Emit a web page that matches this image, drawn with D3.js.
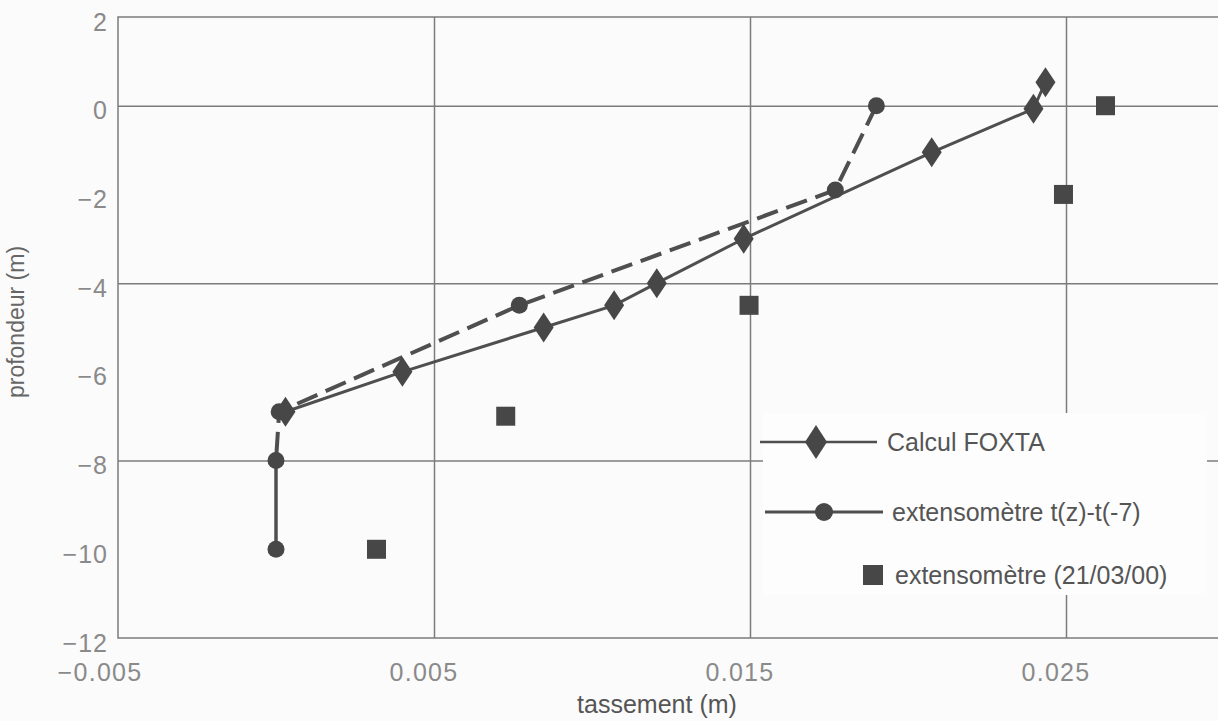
<!DOCTYPE html>
<html>
<head>
<meta charset="utf-8">
<script src="https://cdn.jsdelivr.net/npm/d3@7"></script>
<style>
  html, body { margin: 0; padding: 0; background: #fbfbfb; }
  svg { display: block; font-family: "Liberation Sans", Arial, sans-serif; }
</style>
</head>
<body>
<div id="chart"></div>
<script>
// données

// Calcul FOXTA (losanges, trait plein)
const foxtaX = [0.02435, 0.02397, 0.02075, 0.0148, 0.01205, 0.0107, 0.00847, 0.0040, 0.0003];
const foxtaZ = [0.53, -0.07, -1.05, -3.0, -4.0, -4.5, -5.0, -6.0, -6.9];

// extensomètre t(z)-t(-7) (ronds, tirets)
const extX = [0.0190, 0.0177, 0.0077, 0.0001, 0.0000, 0.0000];
const extZ = [0.0, -1.9, -4.5, -6.9, -8.0, -10.0];

// extensomètre (21/03/00) (carrés, sans trait)
const mesX = [0.02625, 0.02492, 0.01497, 0.00727, 0.00318];
const mesZ = [0.0, -2.0, -4.5, -7.0, -10.0];

const xTicks = [-0.005, 0.005, 0.015, 0.025];
const yTicks = [2, 0, -2, -4, -6, -8, -10, -12];
const xGrid = [0.005, 0.015, 0.025];
const yGrid = [0, -4, -8];

const legendLabels = ["Calcul FOXTA", "extensomètre t(z)-t(-7)", "extensomètre (21/03/00)"];

// dimensions
const W = 1218, H = 721;
const plotLeft = 118, plotTop = 17, plotBottom = 638;

const x = d3.scaleLinear().domain([-0.005, 0.03]).range([plotLeft, plotLeft + 0.035 * 31600]);
const y = d3.scaleLinear().domain([-12, 2]).range([plotBottom, plotTop]);

const gridColor = "#7c7c7c";
const markColor = "#474747";
const lineColor = "#4f4f4f";

const svg = d3.select("#chart").append("svg")
    .attr("width", W)
    .attr("height", H);

// grille
const gx = svg.append("g")
    .attr("transform", `translate(0,${plotBottom})`)
    .call(d3.axisBottom(x).tickValues(xGrid).tickSize(-(plotBottom - plotTop)).tickFormat(""));
const gy = svg.append("g")
    .attr("transform", `translate(${plotLeft},0)`)
    .call(d3.axisLeft(y).tickValues(yGrid).tickSize(-(W - plotLeft + 10)).tickFormat(""));
[gx, gy].forEach(g => {
    g.select(".domain").remove();
    g.selectAll(".tick line").attr("stroke", gridColor).attr("stroke-width", 1.5);
});

// cadre (haut, gauche, bas)
svg.append("path")
    .attr("d", `M${W + 5},${plotTop}H${plotLeft}V${plotBottom}H${W + 5}`)
    .attr("fill", "none")
    .attr("stroke", gridColor)
    .attr("stroke-width", 1.5);

// axe des x
const ax = svg.append("g")
    .attr("transform", `translate(0,${plotBottom})`)
    .call(d3.axisBottom(x).tickValues(xTicks).tickSize(0).tickFormat(d3.format(".3f")));
ax.select(".domain").remove();
ax.selectAll("text")
    .attr("font-family", "Liberation Sans, Arial, sans-serif")
    .attr("font-size", 25)
    .attr("letter-spacing", 1.3)
    .attr("fill", "#8a8a8a")
    .attr("text-anchor", "end")
    .attr("dx", 24)
    .attr("dy", 0)
    .attr("y", 43);

// axe des y
const ay = svg.append("g")
    .attr("transform", `translate(${plotLeft},0)`)
    .call(d3.axisLeft(y).tickValues(yTicks).tickSize(0).tickPadding(10));
ay.select(".domain").remove();
ay.selectAll("text")
    .attr("font-family", "Liberation Sans, Arial, sans-serif")
    .attr("font-size", 25)
    .attr("letter-spacing", 1)
    .attr("fill", "#8a8a8a")
    .attr("y", 5);

// titres
svg.append("text")
    .attr("x", 657)
    .attr("y", 713)
    .attr("text-anchor", "middle")
    .attr("font-size", 25)
    .attr("fill", "#555")
    .text("tassement (m)");

svg.append("text")
    .attr("transform", `translate(24,322) rotate(-90)`)
    .attr("text-anchor", "middle")
    .attr("font-size", 23)
    .attr("fill", "#666")
    .text("profondeur (m)");

// légende (fond blanc qui masque la grille)
svg.append("rect")
    .attr("x", 763).attr("y", 413)
    .attr("width", 444).attr("height", 182)
    .attr("fill", "#fdfdfd");

const diamond = "M0,-15L10,0L0,15L-10,0Z";

// courbes
const line = d3.line().x(d => x(d[0])).y(d => y(d[1]));
const foxta = foxtaX.map((v, i) => [v, foxtaZ[i]]);
const ext = extX.map((v, i) => [v, extZ[i]]);
const mes = mesX.map((v, i) => [v, mesZ[i]]);

svg.append("path")
    .attr("d", line(ext.slice(0, 5)))
    .attr("fill", "none")
    .attr("stroke", lineColor)
    .attr("stroke-width", 4)
    .attr("stroke-dasharray", "22,9");
svg.append("path")
    .attr("d", line(ext.slice(4)))
    .attr("fill", "none")
    .attr("stroke", lineColor)
    .attr("stroke-width", 3.5);

svg.append("path")
    .attr("d", line(foxta))
    .attr("fill", "none")
    .attr("stroke", lineColor)
    .attr("stroke-width", 3);

svg.append("g").selectAll("circle")
    .data(ext).join("circle")
    .attr("cx", d => x(d[0]))
    .attr("cy", d => y(d[1]))
    .attr("r", 8.5)
    .attr("fill", markColor);

svg.append("g").selectAll("path")
    .data(foxta).join("path")
    .attr("d", diamond)
    .attr("transform", d => `translate(${x(d[0])},${y(d[1])})`)
    .attr("fill", markColor);

svg.append("g").selectAll("rect")
    .data(mes).join("rect")
    .attr("x", d => x(d[0]) - 9.5)
    .attr("y", d => y(d[1]) - 9.5)
    .attr("width", 19)
    .attr("height", 19)
    .attr("fill", markColor);

// entrées de légende
const leg = svg.append("g").attr("font-size", 25).attr("fill", "#555");

leg.append("line").attr("x1", 760).attr("x2", 877).attr("y1", 442).attr("y2", 442)
    .attr("stroke", lineColor).attr("stroke-width", 2.5);
leg.append("path").attr("d", "M0,-17L11,0L0,17L-11,0Z")
    .attr("transform", "translate(816,442)").attr("fill", markColor);
leg.append("text").attr("x", 887).attr("y", 451).text(legendLabels[0]);

leg.append("line").attr("x1", 765).attr("x2", 883).attr("y1", 512).attr("y2", 512)
    .attr("stroke", lineColor).attr("stroke-width", 3);
leg.append("circle").attr("cx", 824).attr("cy", 512).attr("r", 9).attr("fill", markColor);
leg.append("text").attr("x", 892).attr("y", 521).text(legendLabels[1]);

leg.append("rect").attr("x", 863).attr("y", 565).attr("width", 20).attr("height", 20)
    .attr("fill", markColor);
leg.append("text").attr("x", 895).attr("y", 584).text(legendLabels[2]);
</script>
</body>
</html>
